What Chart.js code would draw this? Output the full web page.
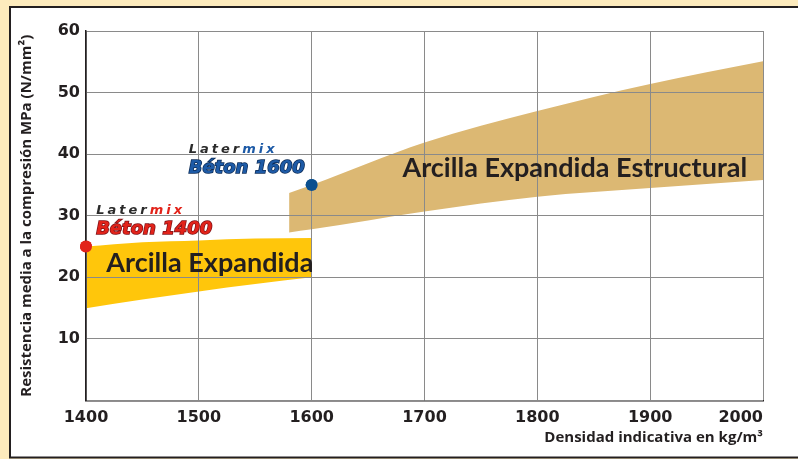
<!DOCTYPE html>
<html>
<head>
<meta charset="utf-8">
<script src="https://cdn.jsdelivr.net/npm/chart.js@4.4.1/dist/chart.umd.min.js"></script>
<style>
html, body { margin: 0; padding: 0; background: #fdebbd; }
#wrap { width: 798px; height: 459px; }
</style>
</head>
<body>
<div id="wrap"><canvas id="resistenciaChart" width="798" height="459"></canvas></div>
<script>
// Densidad indicativa (kg/m3) - resistencia a compresion (N/mm2)
const xTicks = [1400, 1500, 1600, 1700, 1800, 1900, 2000];
const yTicks = [10, 20, 30, 40, 50, 60];

// Arcilla Expandida (banda amarilla)
const arcillaX = [1400, 1450, 1500, 1550, 1600];
const arcillaMin = [15.0, 16.4, 17.7, 18.9, 20.0];
const arcillaMax = [25.0, 25.7, 26.0, 26.3, 26.4];

// Arcilla Expandida Estructural (banda ocre)
const estructuralX = [1580, 1600, 1700, 1800, 1900, 2000];
const estructuralMin = [27.3, 27.8, 30.7, 33.1, 34.5, 35.8];
const estructuralMax = [33.7, 35.0, 41.9, 47.0, 51.4, 55.1];

// Latermix Béton [densidad, resistencia]
const beton1400 = [1400, 25];
const beton1600 = [1600, 35];

const TXT = '#231f20';

function puntos(xs, ys) {
    return xs.map((x, i) => ({ x: x, y: ys[i] }));
}

// rotulos dentro de las bandas (coordenadas en unidades de datos)
const rotulos = [
    { text: 'Arcilla Expandida', x: 1418, y: 20.9, align: 'left' },
    { text: 'Arcilla Expandida Estructural', x: 1986, y: 36.3, align: 'right' }
];

const logos = [
    { text: 'Béton 1400', x: 1409, y: 27.1, color: '#e2231a', dark: '#7d1016' },
    { text: 'Béton 1600', x: 1491, y: 37.0, color: '#1d5aa6', dark: '#0b2a55' }
];

const fondoPlugin = {
    id: 'fondo',
    beforeDraw(chart) {
        const ctx = chart.ctx;
        ctx.save();
        ctx.fillStyle = '#fdebbd';
        ctx.fillRect(0, 0, chart.width, chart.height);
        ctx.fillStyle = '#ffffff';
        ctx.fillRect(10, 7, chart.width, 450.5);
        ctx.strokeStyle = TXT;
        ctx.lineWidth = 2;
        ctx.strokeRect(10, 7, chart.width + 20, 450.5);
        ctx.restore();
    }
};

const textosPlugin = {
    id: 'textos',
    afterDraw(chart) {
        const ctx = chart.ctx;
        const sx = chart.scales.x;
        const sy = chart.scales.y;
        ctx.save();

        // puntos Latermix por encima de la cuadricula
        [4, 5].forEach(i => {
            chart.getDatasetMeta(i).data.forEach(pt => pt.draw(ctx));
        });

        // etiquetas del eje x (la ultima alineada a la derecha)
        ctx.fillStyle = TXT;
        ctx.font = 'bold 16px "DejaVu Sans"';
        ctx.textBaseline = 'middle';
        xTicks.forEach((v, i) => {
            ctx.textAlign = i === xTicks.length - 1 ? 'right' : 'center';
            ctx.fillText(String(v), sx.getPixelForValue(v), sx.top + 17);
        });

        // rotulos de las bandas
        ctx.textBaseline = 'alphabetic';
        ctx.font = 'bold 27px Lato';
        rotulos.forEach(r => {
            ctx.textAlign = r.align;
            ctx.fillText(r.text, sx.getPixelForValue(r.x), sy.getPixelForValue(r.y));
        });

        // logos Latermix
        ctx.textAlign = 'left';
        logos.forEach(l => {
            const px = sx.getPixelForValue(l.x);
            const py = sy.getPixelForValue(l.y);
            ctx.font = 'italic bold 13px "DejaVu Sans"';
            ctx.letterSpacing = '3px';
            ctx.fillStyle = '#2b2b2b';
            ctx.fillText('Later', px, py - 20);
            const w = ctx.measureText('Later').width;
            ctx.fillStyle = l.color;
            ctx.fillText('mix', px + w, py - 20);
            ctx.letterSpacing = '0px';
            ctx.font = 'italic bold 18px "DejaVu Sans"';
            ctx.strokeStyle = l.dark;
            ctx.lineWidth = 1.5;
            ctx.strokeText(l.text, px, py);
            ctx.fillStyle = l.color;
            ctx.fillText(l.text, px, py);
        });
        ctx.restore();
    }
};

const ctx = document.getElementById('resistenciaChart').getContext('2d');
new Chart(ctx, {
    type: 'line',
    data: {
        datasets: [
            {
                label: 'Arcilla Expandida (mín.)',
                data: puntos(arcillaX, arcillaMin),
                borderColor: 'rgba(0,0,0,0)',
                borderWidth: 0,
                pointRadius: 0,
                fill: false,
                cubicInterpolationMode: 'monotone'
            },
            {
                label: 'Arcilla Expandida',
                data: puntos(arcillaX, arcillaMax),
                borderColor: 'rgba(0,0,0,0)',
                borderWidth: 0,
                pointRadius: 0,
                backgroundColor: '#ffc60b',
                fill: '-1',
                cubicInterpolationMode: 'monotone'
            },
            {
                label: 'Arcilla Expandida Estructural (mín.)',
                data: puntos(estructuralX, estructuralMin),
                borderColor: 'rgba(0,0,0,0)',
                borderWidth: 0,
                pointRadius: 0,
                fill: false,
                cubicInterpolationMode: 'monotone'
            },
            {
                label: 'Arcilla Expandida Estructural',
                data: puntos(estructuralX, estructuralMax),
                borderColor: 'rgba(0,0,0,0)',
                borderWidth: 0,
                pointRadius: 0,
                backgroundColor: '#dcb873',
                fill: '-1',
                cubicInterpolationMode: 'monotone'
            },
            {
                label: 'Latermix Béton 1400',
                data: [{ x: beton1400[0], y: beton1400[1] }],
                showLine: false,
                pointRadius: 6,
                pointBorderWidth: 0,
                pointBackgroundColor: '#e2231a',
                clip: false
            },
            {
                label: 'Latermix Béton 1600',
                data: [{ x: beton1600[0], y: beton1600[1] }],
                showLine: false,
                pointRadius: 6,
                pointBorderWidth: 0,
                pointBackgroundColor: '#0b4f8f',
                clip: false
            }
        ]
    },
    options: {
        responsive: false,
        animation: false,
        layout: { padding: { left: 0, top: 31, right: 35, bottom: 0 } },
        scales: {
            x: {
                type: 'linear',
                min: 1400,
                max: 2000,
                afterBuildTicks: s => { s.ticks = xTicks.map(v => ({ value: v })); },
                afterFit: s => { s.height = 58.5; },
                ticks: { display: false },
                grid: { color: '#8a8a8a', lineWidth: 1, drawTicks: false, z: 1 },
                border: { color: TXT, width: 1.5, z: 1 },
                title: {
                    display: true,
                    text: 'Densidad indicativa en kg/m³',
                    align: 'end',
                    color: TXT,
                    font: { family: 'Open Sans', size: 15, weight: 'bold' },
                    padding: { top: 0, bottom: 12 }
                }
            },
            y: {
                min: 0,
                max: 60,
                afterBuildTicks: s => { s.ticks = [0].concat(yTicks).map(v => ({ value: v })); },
                afterFit: s => { s.width = 86; },
                ticks: {
                    callback: v => (v === 0 ? '' : v),
                    color: TXT,
                    padding: 6,
                    font: { family: 'DejaVu Sans', size: 16, weight: 'bold' }
                },
                grid: { color: '#8a8a8a', lineWidth: 1, drawTicks: false, z: 1 },
                border: { color: TXT, width: 1.5, z: 1 },
                title: {
                    display: true,
                    text: 'Resistencia media a la compresión MPa (N/mm²)',
                    color: TXT,
                    font: { family: 'Open Sans', size: 15, weight: 'bold' },
                    padding: { top: 18, bottom: 0 }
                }
            }
        },
        plugins: {
            legend: { display: false },
            tooltip: { enabled: false }
        }
    },
    plugins: [fondoPlugin, textosPlugin]
});
</script>
</body>
</html>
